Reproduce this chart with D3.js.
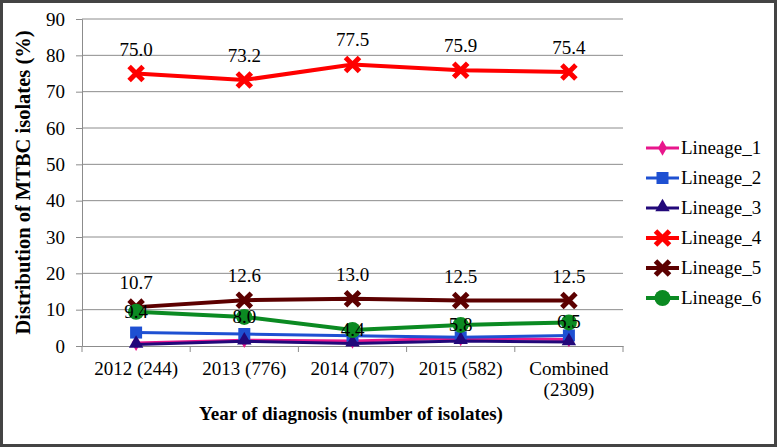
<!DOCTYPE html>
<html>
<head>
<meta charset="utf-8">
<script src="https://cdn.jsdelivr.net/npm/d3@7"></script>
<style>
  body { margin: 0; background: #fff; }
  svg { display: block; }
</style>
</head>
<body>
<div id="chart"></div>
<script>
// data
var years = ["2012 (244)", "2013 (776)", "2014 (707)", "2015 (582)", "Combined (2309)"];
var lineageNames = ["Lineage_1", "Lineage_2", "Lineage_3", "Lineage_4", "Lineage_5", "Lineage_6"];
var lineage1 = [0.8, 1.6, 1.4, 2.1, 1.8];
var lineage2 = [3.7, 3.3, 2.8, 2.4, 2.9];
var lineage3 = [0.4, 1.3, 0.7, 1.4, 1.1];
var lineage4 = [75.0, 73.2, 77.5, 75.9, 75.4];
var lineage5 = [10.7, 12.6, 13.0, 12.5, 12.5];
var lineage6 = [9.4, 8.0, 4.4, 5.8, 6.5];
var yTicks = [0, 10, 20, 30, 40, 50, 60, 70, 80, 90];

var W = 777, H = 447;
var margin = { top: 19, right: 154, bottom: 101, left: 82 };
var serif = "Liberation Serif, Times New Roman, serif";

var series = [
  { name: lineageNames[0], values: lineage1, color: "#e8168c", marker: "diamond", width: 3, label: null },
  { name: lineageNames[1], values: lineage2, color: "#1e50d2", marker: "square", width: 3, label: null },
  { name: lineageNames[2], values: lineage3, color: "#22087a", marker: "triangle", width: 3, label: null },
  { name: lineageNames[3], values: lineage4, color: "#ff0000", marker: "cross", width: 4, label: "above" },
  { name: lineageNames[4], values: lineage5, color: "#5c0000", marker: "cross", width: 4, label: "above" },
  { name: lineageNames[5], values: lineage6, color: "#0b8a22", marker: "circle", width: 4, label: "center" }
];

var svg = d3.select("#chart").append("svg")
  .attr("width", W)
  .attr("height", H)
  .attr("font-family", serif);

// frame
svg.append("rect")
  .attr("x", 1.5).attr("y", 1.5)
  .attr("width", W - 3).attr("height", H - 3)
  .attr("fill", "#fff")
  .attr("stroke", "#444").attr("stroke-width", 3);

var x = d3.scaleBand()
  .domain(years)
  .range([margin.left, W - margin.right]);

var y = d3.scaleLinear()
  .domain([0, 90])
  .range([H - margin.bottom, margin.top]);

// gridlines
svg.append("g").selectAll("line")
  .data(yTicks.filter(function(d) { return d > 0; }))
  .enter().append("line")
  .attr("x1", margin.left).attr("x2", W - margin.right)
  .attr("y1", function(d) { return y(d); })
  .attr("y2", function(d) { return y(d); })
  .attr("stroke", "#8c8c8c").attr("stroke-width", 1);

// y axis
var yAxis = svg.append("g")
  .attr("transform", "translate(" + margin.left + ",0)")
  .call(d3.axisLeft(y).tickValues(yTicks).tickSize(6).tickPadding(11).tickFormat(d3.format("d")));
yAxis.attr("font-family", serif).attr("font-size", 19);
yAxis.selectAll("text").attr("fill", "#000");
yAxis.selectAll("line, path").attr("stroke", "#8c8c8c");

// x axis
var xAxis = svg.append("g")
  .attr("transform", "translate(0," + y(0) + ")")
  .call(d3.axisBottom(x).tickSize(0).tickPadding(16));
xAxis.select("path").attr("stroke", "#8c8c8c");
xAxis.selectAll("text").remove();
xAxis.selectAll(".sep")
  .data(years.map(function(d) { return x(d); }).concat([x.range()[1]]))
  .enter().append("line")
  .attr("x1", function(d) { return d; }).attr("x2", function(d) { return d; })
  .attr("y1", 0).attr("y2", 6)
  .attr("stroke", "#8c8c8c");

years.forEach(function(d) {
  var parts = d.indexOf("Combined") === 0 ? ["Combined", "(2309)"] : [d];
  var t = svg.append("text")
    .attr("x", x(d) + x.bandwidth() / 2)
    .attr("y", y(0) + 29)
    .attr("text-anchor", "middle")
    .attr("font-size", 19);
  parts.forEach(function(p, i) {
    t.append("tspan")
      .attr("x", x(d) + x.bandwidth() / 2)
      .attr("dy", i === 0 ? 0 : 21)
      .text(p);
  });
});

// titles
svg.append("text")
  .attr("transform", "translate(30," + ((margin.top + y(0)) / 2) + ") rotate(-90)")
  .attr("text-anchor", "middle")
  .attr("font-weight", "bold")
  .attr("font-size", 20.5)
  .text("Distribution of MTBC isolates (%)");

svg.append("text")
  .attr("x", 351)
  .attr("y", 420)
  .attr("text-anchor", "middle")
  .attr("font-weight", "bold")
  .attr("font-size", 19)
  .text("Year of diagnosis (number of isolates)");

function drawMarker(g, type, color, cx, cy) {
  if (type === "diamond") {
    g.append("path").attr("d", d3.symbol(d3.symbolDiamond, 70)())
      .attr("transform", "translate(" + cx + "," + cy + ")").attr("fill", color);
  } else if (type === "square") {
    g.append("rect").attr("x", cx - 6).attr("y", cy - 6).attr("width", 12).attr("height", 12).attr("fill", color);
  } else if (type === "triangle") {
    g.append("path").attr("d", d3.symbol(d3.symbolTriangle, 90)())
      .attr("transform", "translate(" + cx + "," + (cy - 1) + ")").attr("fill", color);
  } else if (type === "cross") {
    g.append("path")
      .attr("d", "M" + (cx - 7) + "," + (cy - 7) + "L" + (cx + 7) + "," + (cy + 7) +
                 "M" + (cx + 7) + "," + (cy - 7) + "L" + (cx - 7) + "," + (cy + 7))
      .attr("stroke", color).attr("stroke-width", 5);
  } else if (type === "circle") {
    g.append("circle").attr("cx", cx).attr("cy", cy).attr("r", 8).attr("fill", color);
  }
}

var line = d3.line()
  .x(function(d, i) { return x(years[i]) + x.bandwidth() / 2; })
  .y(function(d) { return y(d); });

series.forEach(function(s) {
  var g = svg.append("g");
  g.append("path")
    .datum(s.values)
    .attr("d", line)
    .attr("fill", "none")
    .attr("stroke", s.color)
    .attr("stroke-width", s.width);
  s.values.forEach(function(v, i) {
    drawMarker(g, s.marker, s.color, x(years[i]) + x.bandwidth() / 2, y(v));
  });
});

// labels last so they sit on top
series.forEach(function(s) {
  if (!s.label) return;
  svg.append("g").selectAll("text")
    .data(s.values)
    .enter().append("text")
    .attr("x", function(d, i) { return x(years[i]) + x.bandwidth() / 2; })
    .attr("y", function(d) { return s.label === "above" ? y(d) - 18 : y(d) + 6; })
    .attr("text-anchor", "middle")
    .attr("font-size", 19)
    .attr("fill", "#000")
    .text(function(d) { return d.toFixed(1); });
});

// legend
var legend = svg.append("g").attr("transform", "translate(646,148)");
series.forEach(function(s, i) {
  var row = legend.append("g").attr("transform", "translate(0," + (i * 30) + ")");
  row.append("line").attr("x1", 0).attr("x2", 33).attr("y1", 0).attr("y2", 0)
    .attr("stroke", s.color).attr("stroke-width", s.width);
  drawMarker(row, s.marker, s.color, 16.5, 0);
  row.append("text").attr("x", 35).attr("y", 6).attr("font-size", 19).text(s.name);
});

svg.selectAll("text").attr("font-family", serif);
</script>
</body>
</html>
